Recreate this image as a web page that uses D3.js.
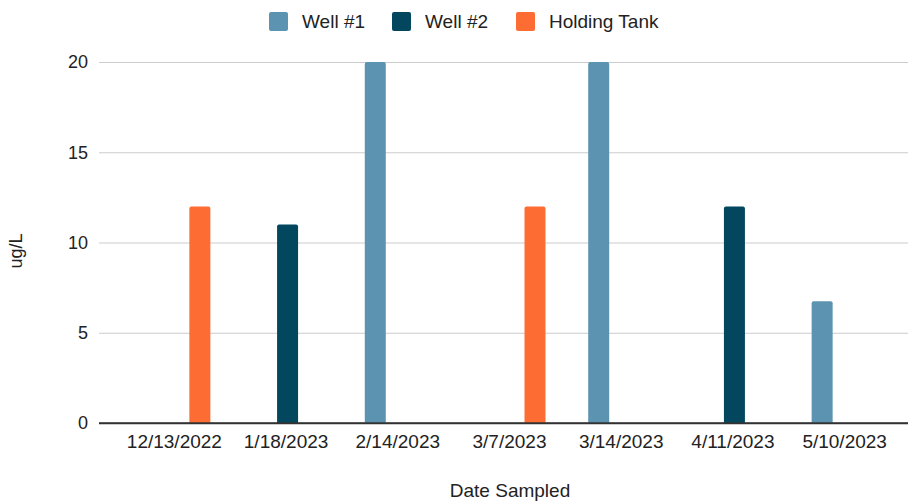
<!DOCTYPE html>
<html>
<head>
<meta charset="utf-8">
<script src="https://cdn.jsdelivr.net/npm/d3@7"></script>
<style>
	body { margin: 0; background: #fff; }
	svg { display: block; font-family: "Liberation Sans", Arial, sans-serif; }
</style>
</head>
<body>
<svg width="910" height="501"></svg>
<script>
var dates = ["12/13/2022", "1/18/2023", "2/14/2023", "3/7/2023", "3/14/2023", "4/11/2023", "5/10/2023"];
var seriesNames = ["Well #1", "Well #2", "Holding Tank"];
var well1 = [null, null, 20, null, 20, null, 6.75];
var well2 = [null, 11, null, null, null, 12, null];
var holdingTank = [12, null, null, 12, null, null, null];
var yTicks = [0, 5, 10, 15, 20];

var colors = ["#5b93b1", "#03475f", "#fd6c32"];
var textColor = "#222";
var fontSize = 19;

var svg = d3.select("svg");

// rows for the grouped bars
var rows = [];
[well1, well2, holdingTank].forEach(function(values, s){
	values.forEach(function(v, i){
		if (v !== null) rows.push({date: dates[i], series: seriesNames[s], value: v});
	});
});

// x scale for the date groups
var xScale = d3.scaleBand()
	.domain(dates)
	.range([120, 902]);

// inner scale for each series inside a group
var xInner = d3.scaleBand()
	.domain(seriesNames)
	.range([0, 72])
	.paddingInner(0.125)
	.paddingOuter(0.0625);

var yScale = d3.scaleLinear()
	.domain([0, 20])
	.range([423, 62]);

var color = d3.scaleOrdinal()
	.domain(seriesNames)
	.range(colors);

// gridlines and y labels
var yAxis = d3.axisLeft(yScale)
	.tickValues(yTicks)
	.tickSize(-809)
	.tickPadding(11);

svg.append("g")
	.attr("transform", "translate(99, 0)")
	.call(yAxis)
	.call(function(g){
		g.select(".domain").remove();
		g.selectAll(".tick line")
			.attr("stroke", function(d){ return d === 0 ? "#333" : "#ccc"; })
			.attr("stroke-width", function(d){ return d === 0 ? 1.5 : 1; });
		g.selectAll(".tick text")
			.attr("fill", textColor)
			.attr("font-size", 18)
			.attr("font-family", "Liberation Sans, Arial, sans-serif");
	});

// bars
svg.append("g")
	.selectAll("path")
	.data(rows)
	.join("path")
	.attr("fill", function(d){ return color(d.series); })
	.attr("d", function(d){
		var x = xScale(d.date) + xScale.bandwidth() / 2 - 36 + xInner(d.series);
		var w = xInner.bandwidth();
		var y = yScale(d.value);
		var h = yScale(0) - y;
		var r = 2;
		return "M" + x + "," + (y + h) +
			"V" + (y + r) + "Q" + x + "," + y + " " + (x + r) + "," + y +
			"H" + (x + w - r) + "Q" + (x + w) + "," + y + " " + (x + w) + "," + (y + r) +
			"V" + (y + h) + "Z";
	});

// redraw the zero line above the bars
svg.append("line")
	.attr("x1", 99)
	.attr("x2", 908)
	.attr("y1", yScale(0))
	.attr("y2", yScale(0))
	.attr("stroke", "#333")
	.attr("stroke-width", 1.5);

// x axis labels
var xAxis = d3.axisBottom(xScale)
	.tickSize(0)
	.tickPadding(12);

svg.append("g")
	.attr("transform", "translate(-1.5, 423)")
	.call(xAxis)
	.call(function(g){
		g.select(".domain").remove();
		g.selectAll(".tick text")
			.attr("fill", textColor)
			.attr("font-size", fontSize)
			.attr("font-family", "Liberation Sans, Arial, sans-serif");
	});

// axis titles
svg.append("text")
	.attr("x", 510)
	.attr("y", 497)
	.attr("text-anchor", "middle")
	.attr("font-size", fontSize)
	.attr("fill", textColor)
	.text("Date Sampled");

svg.append("text")
	.attr("transform", "translate(22, 251) rotate(-90)")
	.attr("text-anchor", "middle")
	.attr("font-size", 18)
	.attr("fill", textColor)
	.text("ug/L");

// legend
var legendX = [269, 392, 516];
var legend = svg.append("g")
	.selectAll("g")
	.data(seriesNames)
	.join("g")
	.attr("transform", function(d, i){ return "translate(" + legendX[i] + ", 12)"; });

legend.append("rect")
	.attr("width", 19)
	.attr("height", 19)
	.attr("rx", 2)
	.attr("fill", function(d){ return color(d); });

legend.append("text")
	.attr("x", 33)
	.attr("y", 16)
	.attr("font-size", fontSize)
	.attr("fill", textColor)
	.text(function(d){ return d; });
</script>
</body>
</html>
